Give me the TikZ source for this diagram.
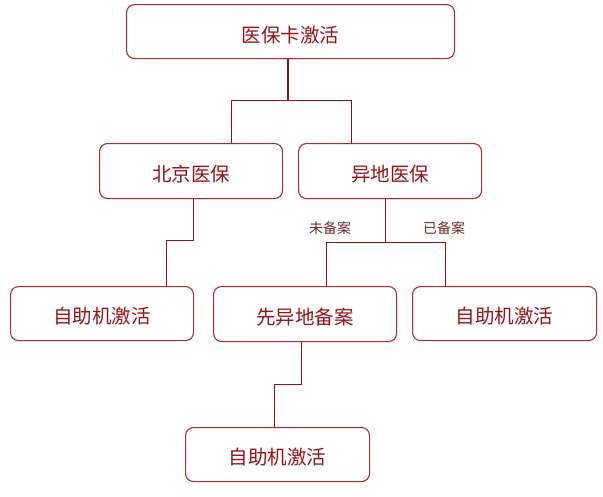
\documentclass[tikz,border=0pt]{standalone}
\usepackage{fontspec}
\setmainfont{Noto Sans CJK SC}
\definecolor{boxred}{RGB}{178,40,48}
\definecolor{txtred}{RGB}{150,20,25}
\definecolor{linered}{RGB}{150,15,20}
\definecolor{lblcol}{RGB}{110,40,40}
\tikzset{
  flowbox/.style={draw=boxred, line width=1.1pt, rounded corners=8pt, fill=white,
    text=txtred, font=\fontsize{19.5}{22}\selectfont, inner sep=0pt, anchor=north west,
    text height=20pt, text depth=0pt},
  conn/.style={draw=linered, line width=1pt},
  lbl/.style={text=lblcol, font=\fontsize{14}{16}\selectfont, inner sep=0pt}
}
\begin{document}
\begin{tikzpicture}[x=1pt,y=-1pt]
\useasboundingbox (0,0) rectangle (603,496);
% boxes
\node[flowbox, minimum width=328pt, minimum height=54pt, text height=22pt] (top) at (126,4) {医保卡激活};
\node[flowbox, minimum width=183pt, minimum height=55pt] (bj) at (99,143) {北京医保};
\node[flowbox, minimum width=183pt, minimum height=55pt] (yd) at (298,143) {异地医保};
\node[flowbox, minimum width=183pt, minimum height=54pt] (zl) at (10,286) {自助机激活};
\node[flowbox, minimum width=183pt, minimum height=55pt] (xy) at (213,286) {先异地备案};
\node[flowbox, minimum width=184pt, minimum height=54pt] (zr) at (412,286) {自助机激活};
\node[flowbox, minimum width=184pt, minimum height=54pt] (zb) at (185,427) {自助机激活};
% connectors
\coordinate (j1) at (288,100);
\draw[conn, line width=2pt] (top.south -| j1) -- (j1);
\draw[conn] (j1) -- (231,100) -- (bj.north -| 231,0);
\draw[conn] (j1) -- (351,100) -- (yd.north -| 351,0);
\draw[conn] (bj.south -| 193,0) -- (193,240) -- (166,240) -- (zl.north -| 166,0);
\coordinate (j2) at (385,242);
\draw[conn] (yd.south -| j2) -- (j2);
\draw[conn] (j2) -- (326,242) -- (xy.north -| 326,0);
\draw[conn] (j2) -- (445,242) -- (zr.north -| 445,0);
\draw[conn] (xy.south -| 301,0) -- (301,384) -- (274,384) -- (zb.north -| 274,0);
% labels
\node[lbl] (l1) at (330,228) {未备案};
\node[lbl] (l2) at (444,228) {已备案};
\end{tikzpicture}
\end{document}
